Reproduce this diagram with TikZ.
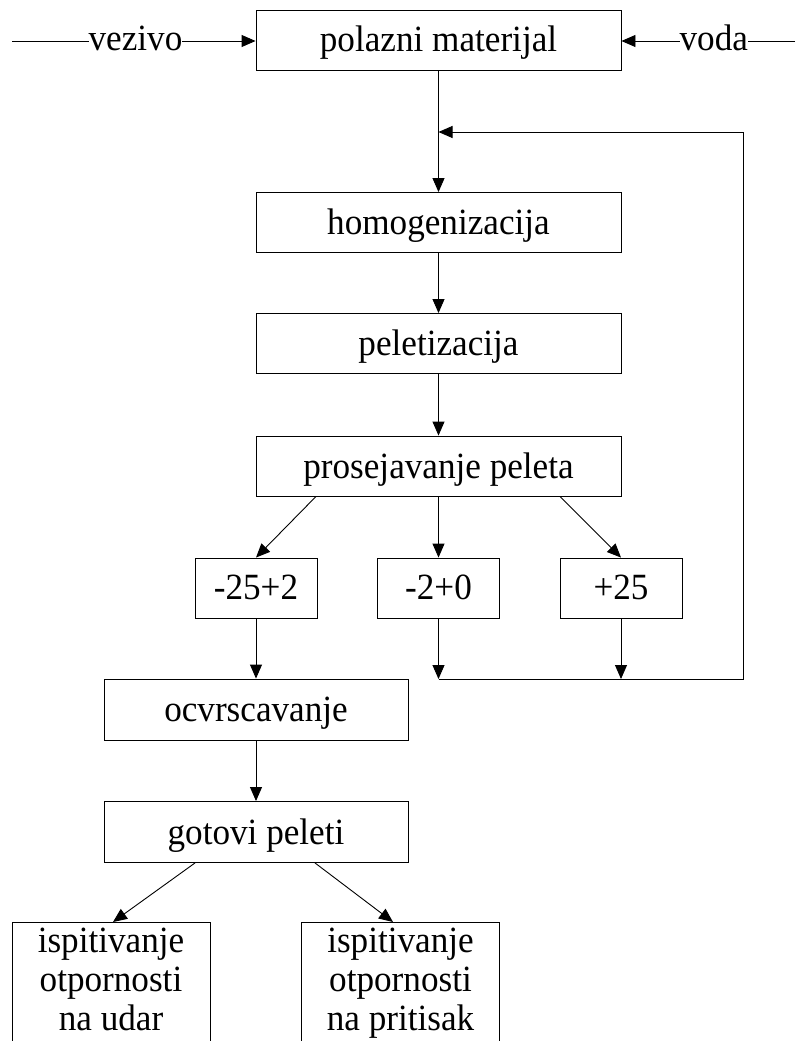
\documentclass[tikz,border=0pt]{standalone}
\usepackage{fontspec}
\setmainfont[FakeStretch=0.95]{Liberation Serif}
\usetikzlibrary{arrows.meta,calc}
\begin{document}
\begin{tikzpicture}[x=1pt,y=-1pt,
  font=\fontsize{37}{39}\selectfont,
  box/.style={draw, line width=0.9pt, inner sep=0pt, text height=30pt, text depth=6pt},
  wide/.style={box, minimum width=365pt, minimum height=60pt},
  mid/.style={box, minimum width=304pt, minimum height=61pt},
  small/.style={box, minimum width=122pt, minimum height=60pt, text depth=8pt},
  openbox/.style={draw, line width=0.9pt, inner sep=0pt, minimum width=198pt, minimum height=160pt, anchor=north},
  btxt/.style={inner sep=0pt, anchor=base},
  ln/.style={line width=0.9pt},
  arr/.style={line width=0.9pt, -{Triangle[length=14pt,width=12pt]}},
  lbl/.style={fill=white, inner xsep=0pt, inner ysep=2pt, text height=20pt, text depth=0pt}]
\clip (0,0) rectangle (795,1041);
\fill[white] (0,0) rectangle (795,1041);
% main column
\node[wide] (pm) at (438.5,40) {polazni materijal};
\node[wide] (hom) at (438.5,222.5) {homogenizacija};
\node[wide] (pel) at (438.5,343.5) {peletizacija};
\node[wide] (pro) at (438.5,466) {prosejavanje peleta};
% fractions
\node[small] (f1) at (256,588) {-25+2};
\node[small] (f2) at (438.5,588) {-2+0};
\node[small] (f3) at (621,588) {+25};
% lower column
\node[mid] (ocv) at (256,709.5) {ocvrscavanje};
\node[mid] (got) at (256,832) {gotovi peleti};
% open boxes at the bottom
\node[openbox] (ud) at (111,922) {};
\node[openbox] (pr) at (400.5,922) {};
\node[btxt] (udt1) at (111,952) {ispitivanje};
\node[btxt] (udt2) at (111,991) {otpornosti};
\node[btxt] (udt3) at (111,1030) {na udar};
\node[btxt] (prt1) at (400.5,952) {ispitivanje};
\node[btxt] (prt2) at (400.5,991) {otpornosti};
\node[btxt] (prt3) at (400.5,1030) {na pritisak};
% inputs
\coordinate (vin) at (12,41);
\coordinate (vout) at (795,41);
\draw[arr] (vin) -- node[lbl, pos=0.507] (vez) {vezivo} (vin -| pm.west);
\draw[arr] (vout) -- node[lbl, pos=0.468] (vod) {voda} (vout -| pm.east);
% feedback loop
\coordinate (fbA) at (438.5,679);
\coordinate (fbB) at (743,679);
\coordinate (fbC) at (743,132);
\coordinate (fbD) at (438.5,132);
\draw[ln] (pm.south) -- (fbD);
\draw[arr] (fbD) -- (hom.north);
\draw[arr] (fbA) -- (fbB) -- (fbC) -- (fbD);
% main flow
\draw[arr] (hom) -- (pel);
\draw[arr] (pel) -- (pro);
\draw[arr] ($(pro.south)+(-122.5,0)$) -- (f1.north);
\draw[arr] (pro.south) -- (f2.north);
\draw[arr] ($(pro.south)+(121.5,0)$) -- (f3.north);
\draw[arr] (f1.south) -- (ocv.north);
\draw[arr] (f2.south) -- (fbA);
\draw[arr] (f3.south) -- (f3.south |- fbA);
\draw[arr] (ocv) -- (got);
\draw[arr] ($(got.south)+(-61,0)$) -- ($(ud.north)+(2,0)$);
\draw[arr] ($(got.south)+(59,0)$) -- ($(pr.north)+(-7.5,0)$);
\end{tikzpicture}
\end{document}
